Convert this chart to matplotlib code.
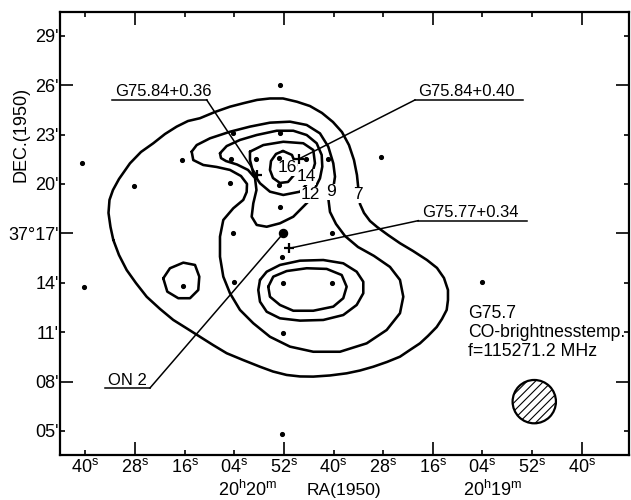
import matplotlib
matplotlib.use('Agg')
import matplotlib.pyplot as plt
from matplotlib import font_manager
from matplotlib.transforms import blended_transform_factory
import numpy as np

names = {f.name for f in font_manager.fontManager.ttflist}
FONT = 'Liberation Sans' if 'Liberation Sans' in names else 'DejaVu Sans'
plt.rcParams['font.family'] = [FONT, 'DejaVu Sans']
plt.rcParams['mathtext.fontset'] = 'custom'
plt.rcParams['mathtext.rm'] = FONT
plt.rcParams['mathtext.default'] = 'regular'
plt.rcParams['hatch.linewidth'] = 0.8

# ---------------- data (RA: seconds after 20h19m00s, Dec: arcmin after 37d00') ----
ra_major = [88, 52, 16, -20]
ra_major_labels = ['28', '52', '16', '40']
ra_minor = [100, 76, 64, 40, 28, 4, -8]
ra_minor_labels = ['40', '16', '04', '40', '28', '04', '52']
dec_major = [26, 17, 8]
dec_major_labels = ["26'", "37°17'", "08'"]
dec_minor = [29, 23, 20, 14, 11, 5]
dec_minor_labels = ["29'", "23'", "20'", "14'", "11'", "05'"]

# contour 7 K (outer)
c7_ra = [93.23, 93.91, 94.39, 94.15, 93.31, 91.85, 89.20, 86.54, 83.56, 80.74, 77.91,
         75.18, 72.28, 68.65, 65.02, 61.64, 58.50, 55.36, 52.21, 48.83, 45.69, 42.79,
         40.13, 37.95, 36.26, 35.05, 34.33, 33.96, 33.60, 32.63, 31.18, 29.49, 26.83,
         23.93, 20.79, 17.41, 14.99, 13.30, 12.33, 12.33, 12.64, 13.78, 15.06, 17.16,
         19.10, 21.51, 23.93, 27.07, 30.39, 33.60, 36.82, 40.85, 44.89, 48.10, 51.32,
         54.63, 57.77, 61.88, 65.82, 69.13, 72.28, 75.42, 78.73, 81.94, 85.16, 87.75,
         89.99, 91.85]
c7_dec = [16.60, 17.39, 18.24, 19.03, 19.63, 20.30, 21.25, 21.94, 22.47, 23.03, 23.48,
          23.82, 23.99, 24.37, 24.69, 24.91, 25.10, 25.19, 25.19, 24.99, 24.73, 24.31,
          23.76, 23.15, 22.36, 21.45, 20.54, 19.63, 18.78, 18.24, 17.75, 17.39, 16.90,
          16.40, 15.93, 15.38, 14.90, 14.29, 13.56, 12.95, 12.35, 11.80, 11.31, 10.77,
          10.32, 9.92, 9.51, 9.19, 8.90, 8.67, 8.50, 8.37, 8.30, 8.31, 8.40,
          8.61, 8.90, 9.31, 9.72, 10.22, 10.72, 11.22, 11.74, 12.41, 13.15, 13.98,
          14.77, 15.68]

# contour 9 K
c9_ra = [74.28, 73.07, 69.86, 65.02, 60.19, 55.36, 50.52, 46.48, 43.27, 41.26, 40.05,
         39.64, 40.13, 41.21, 40.85, 39.40, 37.23, 34.08, 30.22, 26.35, 23.93, 23.13,
         23.93, 27.15, 31.98, 38.43, 44.89, 50.52, 55.36, 59.39, 62.61, 65.02, 66.64,
         67.44, 67.44, 66.64, 64.23, 61.81, 60.99, 60.91, 62.36, 65.02, 68.24, 71.48,
         73.90]
c9_dec = [21.96, 22.36, 22.77, 23.17, 23.48, 23.72, 23.78, 23.58, 23.07, 22.26, 21.25,
          20.44, 19.63, 19.03, 18.30, 17.57, 16.84, 16.17, 15.63, 14.96, 14.17, 13.15,
          12.15, 11.13, 10.32, 9.81, 9.81, 10.12, 10.72, 11.54, 12.35, 13.36, 14.37,
          15.58, 16.80, 17.81, 18.52, 19.03, 19.51, 20.00, 20.48, 20.85, 21.03, 21.15,
          21.45]

# contour 9 K, small isolated patch
c9b_ra = [81.15, 79.53, 76.31, 73.48, 72.44, 72.69, 74.69, 77.52, 80.18]
c9b_dec = [14.27, 14.88, 15.22, 15.08, 14.37, 13.56, 13.06, 13.06, 13.46]

# contour 12 K, northern
c12_ra = [67.44, 65.82, 62.61, 58.57, 53.73, 49.72, 46.48, 44.07, 42.86, 42.71, 43.27,
          44.48, 45.69, 47.31, 49.72, 52.94, 56.15, 58.57, 59.78, 59.39, 58.62, 58.98,
          60.67, 63.33, 65.99, 67.20]
c12_dec = [21.86, 22.30, 22.67, 22.97, 23.23, 23.23, 22.97, 22.47, 21.76, 21.05, 20.34,
           19.73, 19.03, 18.62, 18.01, 17.61, 17.40, 17.51, 18.01, 18.82, 19.63, 20.36,
           20.85, 21.18, 21.39, 21.57]

# contour 12 K, southern
c12s_ra = [57.77, 56.15, 52.94, 48.10, 42.47, 37.64, 34.40, 32.80, 32.80, 34.40, 37.64,
           42.47, 48.10, 52.94, 56.15, 57.77, 58.18]
c12s_dec = [14.17, 14.67, 15.08, 15.34, 15.38, 15.18, 14.67, 14.06, 13.36, 12.65, 12.04,
            11.74, 11.70, 11.84, 12.24, 12.85, 13.56]

# contour 14 K, northern
c14_ra = [60.19, 56.97, 52.14, 47.31, 44.89, 44.48, 45.28, 46.65, 48.10, 52.14, 55.36,
          57.77, 59.39, 60.19]
c14_dec = [21.96, 22.36, 22.56, 22.47, 22.06, 21.25, 20.54, 19.94, 19.53, 19.33, 19.53,
           20.04, 20.65, 21.45]

# contour 14 K, southern
c14s_ra = [55.77, 54.56, 51.32, 46.48, 41.65, 38.02, 36.82, 37.64, 40.05, 44.89, 49.72,
           52.94, 55.36]
c14s_dec = [13.76, 14.37, 14.71, 14.88, 14.84, 14.47, 13.76, 13.06, 12.55, 12.30, 12.30,
            12.65, 13.15]

# contour 16 K
c16_ra = [52.21, 53.90, 55.11, 55.36, 54.63, 52.94, 51.00, 49.55, 49.07, 50.04]
c16_dec = [22.00, 21.82, 21.39, 20.85, 20.36, 20.06, 20.12, 20.54, 21.15, 21.76]

contour_levels = ['7', '9', '12', '14', '16']
level_label_ra = [34.16, 40.68, 45.69, 46.65, 51.25]
level_label_dec = [19.33, 19.53, 19.33, 20.44, 20.97]

# observed positions
obs_ra = [100.87, 100.31, 88.16, 76.70, 64.37, 52.94, 52.94, 64.78, 58.74, 53.06, 46.65,
          41.41, 28.52, 65.02, 53.06, 52.94, 64.23, 40.44, 52.33, 64.06, 52.28, 40.44,
          52.14, 76.46, 52.53, 4.11]
obs_dec = [21.29, 13.77, 19.89, 21.45, 23.07, 26.01, 23.11, 21.51, 21.51, 21.56, 21.51,
           21.53, 21.61, 20.03, 19.94, 18.62, 17.02, 17.02, 15.58, 14.06, 13.97, 14.00,
           10.93, 13.80, 4.82, 14.05]

# sources (+) and their labels
src_names = ['G75.84+0.36', 'G75.84+0.40', 'G75.77+0.34']
src_ra = [58.57, 48.27, 50.69]
src_dec = [20.54, 21.53, 16.09]
src_line_ra0 = [93.62, 20.30, 19.51]
src_line_ra1 = [70.65, -5.73, -6.84]
src_line_dec = [25.10, 25.10, 17.77]
src_leader_from = [1, 0, 0]   # which end of the underline the leader leaves from

on2_ra, on2_dec = 52.14, 17.00
on2_line_ra0, on2_line_ra1, on2_line_dec = 95.24, 84.36, 7.61

info_lines = ['G75.7', 'CO-brightnesstemp.', 'f=115271.2 MHz']
info_ra = 7.49
info_dec = [11.86, 10.71, 9.55]

beam_ra, beam_dec = -8.53, 6.78

# ---------------- figure ----------------
fig = plt.figure(figsize=(6.31, 5.0), dpi=100)
ax = fig.add_axes([0.09556, 0.09, 0.90174, 0.886])
ax.set_xlim(106.04, -31.5)
ax.set_ylim(3.54, 30.44)

LW = 1.85
for r, d in [(c7_ra, c7_dec), (c9_ra, c9_dec), (c9b_ra, c9b_dec), (c12_ra, c12_dec),
             (c12s_ra, c12s_dec), (c14_ra, c14_dec), (c14s_ra, c14s_dec),
             (c16_ra, c16_dec)]:
    ax.plot(np.append(r, r[0]), np.append(d, d[0]), color='black', lw=LW,
            solid_joinstyle='round', solid_capstyle='round', zorder=2)

for lab, x, y in zip(contour_levels, level_label_ra, level_label_dec):
    ax.text(x, y, lab, fontsize=12.5, ha='center', va='center', zorder=3,
            bbox=dict(facecolor='white', edgecolor='none', pad=0.2))

ax.plot(obs_ra, obs_dec, 'o', color='black', ms=2.7, zorder=4, ls='none')
ax.plot([on2_ra], [on2_dec], 'o', color='black', ms=5.8, zorder=4)

ax.plot(src_ra, src_dec, '+', color='black', ms=7.5, mew=1.6, zorder=5, ls='none')

for name, x, y, x0, x1, yl, end in zip(src_names, src_ra, src_dec, src_line_ra0,
                                        src_line_ra1, src_line_dec, src_leader_from):
    ax.plot([x0, x1], [yl, yl], color='black', lw=1.1, zorder=4)
    xs = x1 if end == 1 else x0
    ax.plot([xs, x], [yl, y], color='black', lw=1.1, zorder=4)
    ax.annotate(name, xy=(x0, yl), xytext=(2.5, 2.5), textcoords='offset points',
                ha='left', va='baseline', fontsize=12)

ax.plot([on2_line_ra0, on2_line_ra1], [on2_line_dec, on2_line_dec], color='black', lw=1.1)
ax.plot([on2_line_ra1, on2_ra], [on2_line_dec, on2_dec], color='black', lw=1.1)
ax.annotate('ON 2', xy=(on2_line_ra0, on2_line_dec), xytext=(2.0, 2.5),
            textcoords='offset points', ha='left', va='baseline', fontsize=12)

for line, d in zip(info_lines, info_dec):
    ax.text(info_ra, d, line, fontsize=12.7, ha='left', va='baseline')

ax.scatter([beam_ra], [beam_dec], s=31.2 ** 2, facecolor='white', edgecolor='black',
           linewidth=1.6, hatch='////', zorder=3)

# ticks
ax.set_xticks(ra_major)
ax.set_xticklabels([r'$%s^{s}$' % s for s in ra_major_labels])
ax.set_xticks(ra_minor, minor=True)
ax.set_xticklabels([r'$%s^{s}$' % s for s in ra_minor_labels], minor=True)
ax.set_yticks(dec_major)
ax.set_yticklabels(dec_major_labels)
ax.set_yticks(dec_minor, minor=True)
ax.set_yticklabels(dec_minor_labels, minor=True)

ax.tick_params(which='both', direction='in', top=True, right=True, width=1.2,
               labelsize=13, color='black')
ax.tick_params(which='major', length=9.4)
ax.tick_params(which='minor', length=3.6)
ax.tick_params(axis='x', which='both', pad=2.5)
ax.tick_params(axis='y', which='both', pad=1.0)

for sp in ax.spines.values():
    sp.set_linewidth(1.6)

fig.text(21 / 631, 1 - 134 / 500, 'DEC.(1950)', rotation=90, ha='center', va='center',
         fontsize=13)
trans = blended_transform_factory(ax.transData, fig.transFigure)
ax.text(60.77, 0.02, r'$20^{h}20^{m}$', transform=trans, ha='center', va='center',
        fontsize=13)
ax.text(1.52, 0.02, r'$20^{h}19^{m}$', transform=trans, ha='center', va='center',
        fontsize=13)
fig.text(344 / 631, 0.02, 'RA(1950)', ha='center', va='center', fontsize=12.5)

fig.savefig('out.png', dpi=100)
